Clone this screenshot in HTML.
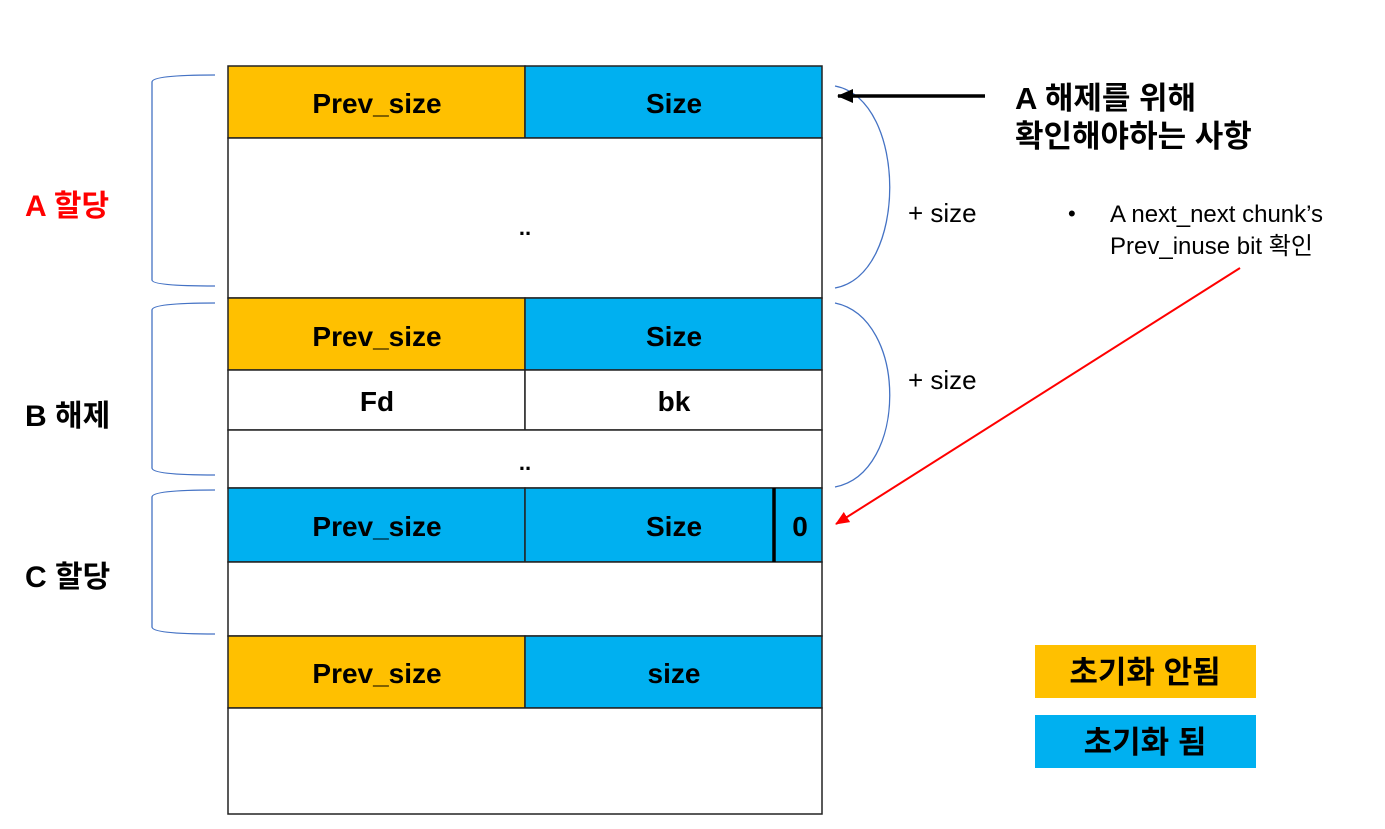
<!DOCTYPE html>
<html><head><meta charset="utf-8"><style>
html,body{margin:0;padding:0;background:#fff;}
svg text{font-family:"Liberation Sans","Noto Sans CJK KR",sans-serif;}
</style></head><body>
<svg width="1385" height="824" viewBox="0 0 1385 824" xmlns="http://www.w3.org/2000/svg">
<defs>
<marker id="ab" markerWidth="16" markerHeight="14" refX="15" refY="7" orient="auto" markerUnits="userSpaceOnUse"><path d="M0,0 L16,7 L0,14 z" fill="#000"/></marker>
<marker id="ar" markerWidth="14" markerHeight="12" refX="13" refY="6" orient="auto" markerUnits="userSpaceOnUse"><path d="M0,0 L14,6 L0,12 z" fill="#f00"/></marker>
</defs>
<g stroke="#222" stroke-width="1.5">
<rect x="228" y="66" width="297" height="72" fill="#FFC000"/>
<rect x="525" y="66" width="297" height="72" fill="#00B0F0"/>
<rect x="228" y="138" width="594" height="160" fill="#fff"/>
<rect x="228" y="298" width="297" height="72" fill="#FFC000"/>
<rect x="525" y="298" width="297" height="72" fill="#00B0F0"/>
<rect x="228" y="370" width="297" height="60" fill="#fff"/>
<rect x="525" y="370" width="297" height="60" fill="#fff"/>
<rect x="228" y="430" width="594" height="58" fill="#fff"/>
<rect x="228" y="488" width="297" height="74" fill="#00B0F0"/>
<rect x="525" y="488" width="297" height="74" fill="#00B0F0"/>
<rect x="228" y="562" width="594" height="74" fill="#fff"/>
<rect x="228" y="636" width="297" height="72" fill="#FFC000"/>
<rect x="525" y="636" width="297" height="72" fill="#00B0F0"/>
<rect x="228" y="708" width="594" height="106" fill="#fff"/>
</g>
<line x1="774" y1="488" x2="774" y2="562" stroke="#000" stroke-width="3.5"/>
<g font-weight="bold" font-size="28" text-anchor="middle" fill="#000">
<text x="377" y="113">Prev_size</text><text x="674" y="113">Size</text>
<text x="525" y="235" font-size="22">..</text>
<text x="377" y="346">Prev_size</text><text x="674" y="346">Size</text>
<text x="377" y="411">Fd</text><text x="674" y="411">bk</text>
<text x="525" y="470" font-size="22">..</text>
<text x="377" y="536">Prev_size</text><text x="674" y="536">Size</text><text x="800" y="536">0</text>
<text x="377" y="683">Prev_size</text><text x="674" y="683">size</text>
</g>
<g fill="none" stroke="#4472C4" stroke-width="1.3">
<path d="M215,75 Q152,75 152,82 L152,280 Q152,286 215,286"/>
<path d="M215,303 Q152,303 152,310 L152,468 Q152,475 215,475"/>
<path d="M215,490 Q152,490 152,497 L152,627 Q152,634 215,634"/>
<path d="M835,86 C908,100 908,275 835,288"/>
<path d="M835,303 C908,318 908,473 835,487"/>
</g>
<g font-weight="bold" font-size="30">
<text x="25" y="216" fill="#f00">A 할당</text>
<text x="25" y="426" fill="#000">B 해제</text>
<text x="25" y="587" fill="#000">C 할당</text>
</g>
<text x="908" y="222" font-size="26">+ size</text>
<text x="908" y="389" font-size="26">+ size</text>
<line x1="985" y1="96" x2="838" y2="96" stroke="#000" stroke-width="3.5" marker-end="url(#ab)"/>
<g font-weight="bold" font-size="31"><text x="1015" y="109">A 해제를 위해</text><text x="1015" y="147">확인해야하는 사항</text></g>
<text x="1068" y="221" font-size="22">•</text>
<g font-size="24"><text x="1110" y="222">A next_next chunk’s</text><text x="1110" y="254">Prev_inuse bit 확인</text></g>
<line x1="1240" y1="268" x2="836" y2="524" stroke="#f00" stroke-width="2" marker-end="url(#ar)"/>
<rect x="1035" y="645" width="221" height="53" fill="#FFC000"/>
<rect x="1035" y="715" width="221" height="53" fill="#00B0F0"/>
<g font-weight="bold" font-size="31" text-anchor="middle"><text x="1145" y="683">초기화 안됨</text><text x="1145" y="753">초기화 됨</text></g>
</svg>
</body></html>
